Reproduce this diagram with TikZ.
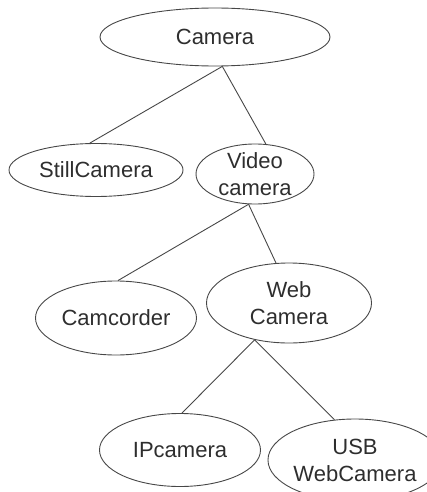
\documentclass[tikz,border=0pt]{standalone}
\usepackage{fontspec}
\setmainfont{Liberation Sans}
\usetikzlibrary{shapes.geometric}
\begin{document}
\begin{tikzpicture}[x=1pt,y=-1pt,
  cls/.style={ellipse, draw=black!72, line width=0.9pt, inner sep=0pt,
    inner ysep=-10pt, align=center, text=black!82,
    font=\fontsize{22}{27}\selectfont},
  link/.style={draw=black!72, line width=0.9pt}]
\useasboundingbox (0,0) rectangle (427,492);
% class hierarchy
\node[cls, minimum width=230pt, minimum height=58pt] (cam)   at (215,37)  {Camera};
\node[cls, minimum width=174pt, minimum height=53pt] (still) at (96,170)  {StillCamera};
\node[cls, minimum width=118pt, minimum height=60pt] (video) at (255,174) {Video\\camera};
\node[cls, minimum width=161pt, minimum height=74pt] (camc)  at (116,318) {Camcorder};
\node[cls, minimum width=165pt, minimum height=80pt] (web)   at (289,303) {Web\\Camera};
\node[cls, minimum width=161pt, minimum height=73pt] (ip)    at (180,450) {IPcamera};
\node[cls, minimum width=170pt, minimum height=82pt] (usb)   at (355,460) {USB\\WebCamera};
% inheritance links
\draw[link] (cam.-76)    -- (still.103);
\draw[link] (cam.-76)    -- (video.70);
\draw[link] (video.-102) -- (camc.87);
\draw[link] (video.-102) -- (web.108);
\draw[link] (web.-133)   -- (ip.87);
\draw[link] (web.-133)   -- (usb.117);
\end{tikzpicture}
\end{document}
